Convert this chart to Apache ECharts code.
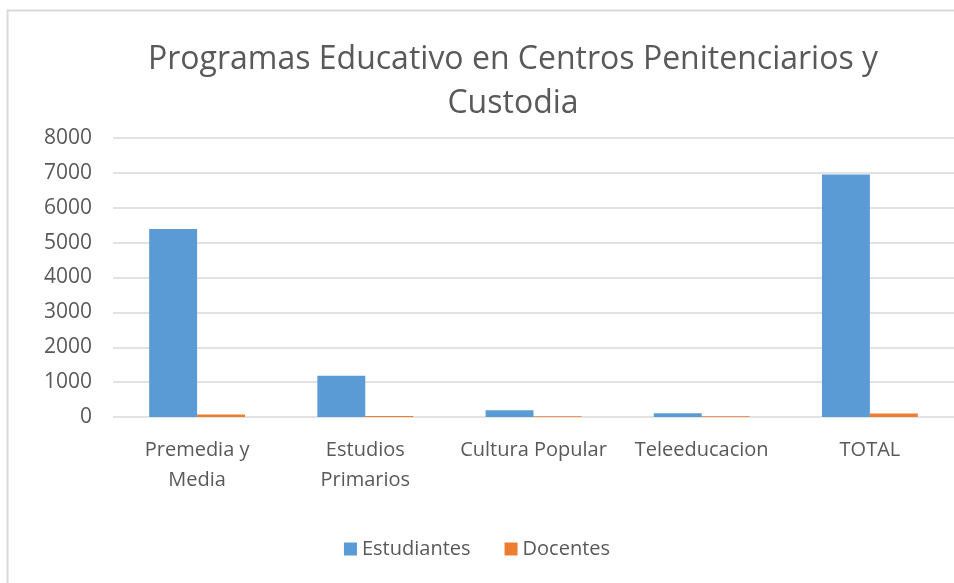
<!DOCTYPE html>
<html lang="es">
<head>
<meta charset="UTF-8">
<title>Programas Educativo en Centros Penitenciarios y Custodia</title>
<script src="https://cdn.jsdelivr.net/npm/echarts@6/dist/echarts.min.js"></script>
<style>
    * { margin: 0; padding: 0; }
    body { background: #fff; }
    #chart { width: 954px; height: 583px; }
</style>
</head>
<body>
<div id="chart"></div>
<script>
    // datos
    var categorias = ['Premedia y\nMedia', 'Estudios\nPrimarios', 'Cultura Popular', 'Teleeducacion', 'TOTAL'];
    var estudiantes = [5390, 1180, 190, 110, 6950];
    var docentes = [70, 30, 25, 25, 100];
    var ticksY = [0, 1000, 2000, 3000, 4000, 5000, 6000, 7000, 8000];

    var fuente = '"Open Sans", "Noto Sans", sans-serif';
    var gris = '#595959';

    var chart = echarts.init(document.getElementById('chart'));
    chart.setOption({
        animation: false,
        backgroundColor: '#fff',
        title: {
            text: 'Programas Educativo en Centros Penitenciarios y\nCustodia',
            left: 508,
            textAlign: 'center',
            top: 33,
            textStyle: {
                fontFamily: fuente,
                fontSize: 32,
                fontWeight: 'normal',
                color: gris,
                lineHeight: 44
            }
        },
        graphic: [{
            type: 'rect',
            shape: { x: 7.5, y: 10.5, width: 1000, height: 700 },
            style: { fill: 'none', stroke: '#d9d9d9', lineWidth: 2 },
            silent: true
        }],
        legend: {
            bottom: 19,
            left: 'center',
            itemWidth: 13,
            itemHeight: 13,
            itemGap: 34,
            icon: 'rect',
            textStyle: { fontFamily: fuente, fontSize: 20, color: gris },
            data: ['Estudiantes', 'Docentes']
        },
        grid: {
            left: 113,
            right: -2,
            top: 138,
            bottom: 166,
            containLabel: false
        },
        xAxis: {
            type: 'category',
            data: categorias,
            axisLine: { show: false },
            axisTick: { show: false },
            axisLabel: {
                fontFamily: fuente,
                fontSize: 20,
                color: gris,
                lineHeight: 30,
                margin: 18,
                interval: 0
            }
        },
        yAxis: {
            type: 'value',
            min: ticksY[0],
            max: ticksY[ticksY.length - 1],
            interval: 1000,
            axisLine: { show: false },
            axisTick: { show: false },
            axisLabel: {
                fontFamily: fuente,
                fontSize: 21,
                color: gris,
                margin: 21,
                formatter: function (v) { return String(v); }
            },
            splitLine: { lineStyle: { color: '#d9d9d9', width: 1.5 } }
        },
        series: [{
            name: 'Estudiantes',
            type: 'bar',
            data: estudiantes,
            barGap: '0%',
            barCategoryGap: '43%',
            itemStyle: { color: '#5B9BD5' }
        }, {
            name: 'Docentes',
            type: 'bar',
            data: docentes,
            itemStyle: { color: '#ED7D31' }
        }]
    });
</script>
</body>
</html>
